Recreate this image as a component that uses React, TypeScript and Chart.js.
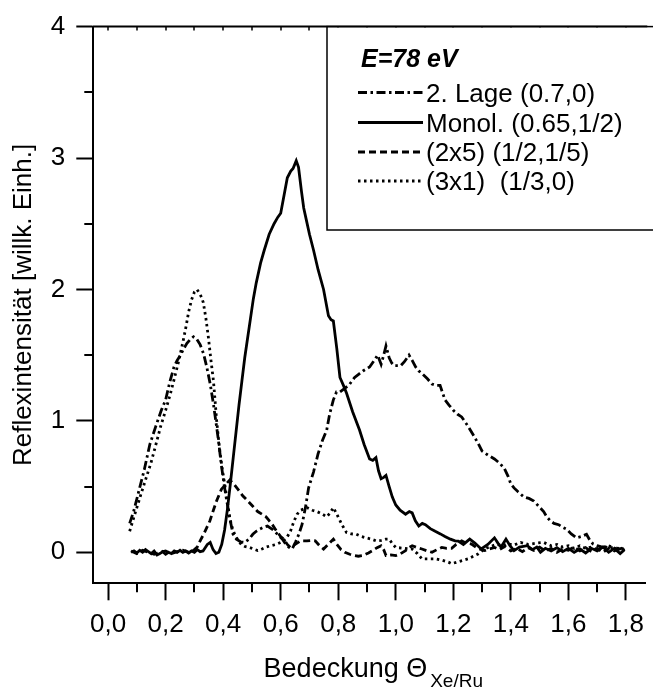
import React, { useEffect, useRef } from 'react';
import { Chart, registerables } from 'chart.js';

Chart.register(...registerables);

// ---- Data: [Bedeckung Θ, Reflexintensität] ----
const LAGE2: [number, number][] = [
  [0.075, 0.22], [0.09, 0.32], [0.105, 0.45], [0.126, 0.63], [0.145, 0.82], [0.166, 0.96], [0.185, 1.08],
  [0.2, 1.16], [0.215, 1.3], [0.229, 1.41], [0.24, 1.46], [0.252, 1.5], [0.263, 1.55], [0.274, 1.59],
  [0.286, 1.62], [0.297, 1.64], [0.309, 1.62], [0.32, 1.58], [0.332, 1.51], [0.343, 1.41], [0.355, 1.28],
  [0.366, 1.13], [0.375, 0.99], [0.383, 0.86], [0.394, 0.66], [0.403, 0.52], [0.411, 0.41], [0.423, 0.26],
  [0.434, 0.14], [0.446, 0.1], [0.46, 0.08], [0.474, 0.075], [0.49, 0.1], [0.503, 0.137], [0.515, 0.16],
  [0.526, 0.175], [0.54, 0.19], [0.554, 0.2], [0.571, 0.175], [0.589, 0.137], [0.606, 0.1], [0.618, 0.06],
  [0.629, 0.037], [0.64, 0.025], [0.652, 0.08], [0.663, 0.137], [0.674, 0.21], [0.686, 0.34], [0.697, 0.49],
  [0.714, 0.61], [0.73, 0.75], [0.745, 0.85], [0.76, 0.93], [0.77, 1.05], [0.783, 1.16], [0.794, 1.22],
  [0.806, 1.22], [0.818, 1.24], [0.83, 1.26], [0.84, 1.28], [0.857, 1.33], [0.874, 1.36], [0.886, 1.38],
  [0.909, 1.41], [0.925, 1.46], [0.937, 1.5], [0.949, 1.43], [0.958, 1.5], [0.966, 1.57], [0.977, 1.48],
  [0.986, 1.44], [0.994, 1.42], [1.005, 1.42], [1.017, 1.42], [1.03, 1.45], [1.046, 1.5], [1.057, 1.46],
  [1.069, 1.41], [1.08, 1.38], [1.091, 1.36], [1.11, 1.32], [1.126, 1.28], [1.14, 1.27], [1.154, 1.27],
  [1.171, 1.16], [1.185, 1.12], [1.2, 1.08], [1.215, 1.05], [1.229, 1.03], [1.251, 0.96], [1.27, 0.89],
  [1.286, 0.83], [1.3, 0.77], [1.32, 0.74], [1.343, 0.71], [1.36, 0.68], [1.377, 0.64], [1.39, 0.58],
  [1.4, 0.52], [1.411, 0.49], [1.425, 0.46], [1.446, 0.42], [1.463, 0.41], [1.48, 0.39], [1.497, 0.35],
  [1.514, 0.31], [1.525, 0.27], [1.537, 0.24], [1.55, 0.22], [1.566, 0.21], [1.58, 0.19], [1.594, 0.175],
  [1.61, 0.14], [1.628, 0.11], [1.645, 0.12], [1.663, 0.137], [1.675, 0.09], [1.686, 0.063], [1.7, 0.05],
  [1.72, 0.037], [1.737, 0.05], [1.754, 0.04], [1.77, 0.02], [1.785, 0.03], [1.794, 0.01],
];

const MONOL: [number, number][] = [
  [0.08, 0.0], [0.09, 0.01], [0.1, -0.005], [0.11, 0.015], [0.12, 0.0], [0.13, 0.02], [0.14, 0.005],
  [0.15, -0.01], [0.16, 0.01], [0.17, -0.02], [0.18, -0.01], [0.19, 0.005], [0.2, -0.015], [0.21, 0.0],
  [0.22, -0.01], [0.23, 0.01], [0.24, 0.0], [0.25, 0.015], [0.26, 0.0], [0.27, 0.01], [0.28, -0.005],
  [0.29, 0.01], [0.3, 0.0], [0.31, 0.02], [0.32, 0.005], [0.33, 0.01], [0.345, 0.06], [0.355, 0.075],
  [0.365, 0.02], [0.375, -0.01], [0.385, 0.0], [0.395, 0.06], [0.405, 0.17], [0.415, 0.33], [0.425, 0.52],
  [0.435, 0.72], [0.445, 0.92], [0.455, 1.12], [0.465, 1.3], [0.475, 1.48], [0.485, 1.63], [0.495, 1.78],
  [0.505, 1.93], [0.515, 2.05], [0.53, 2.2], [0.543, 2.3], [0.56, 2.42], [0.577, 2.5], [0.59, 2.55],
  [0.6, 2.58], [0.612, 2.72], [0.623, 2.85], [0.635, 2.9], [0.643, 2.92], [0.654, 2.98], [0.662, 2.93],
  [0.672, 2.75], [0.68, 2.62], [0.69, 2.52], [0.7, 2.42], [0.714, 2.3], [0.73, 2.15], [0.749, 2.0],
  [0.766, 1.8], [0.775, 1.77], [0.783, 1.76], [0.795, 1.55], [0.806, 1.33], [0.818, 1.27], [0.829, 1.21],
  [0.85, 1.07], [0.874, 0.93], [0.89, 0.82], [0.909, 0.71], [0.92, 0.7], [0.931, 0.72], [0.94, 0.62],
  [0.949, 0.56], [0.958, 0.57], [0.966, 0.585], [0.977, 0.5], [0.988, 0.42], [1.0, 0.36], [1.015, 0.32],
  [1.034, 0.29], [1.047, 0.31], [1.057, 0.3], [1.068, 0.24], [1.08, 0.2], [1.092, 0.22], [1.103, 0.21],
  [1.12, 0.18], [1.137, 0.16], [1.155, 0.14], [1.171, 0.12], [1.19, 0.1], [1.206, 0.087], [1.217, 0.085],
  [1.235, 0.06], [1.257, 0.1], [1.275, 0.07], [1.297, 0.025], [1.32, 0.06], [1.343, 0.11], [1.355, 0.07],
  [1.366, 0.04], [1.383, 0.1], [1.397, 0.05], [1.411, 0.013], [1.43, 0.04], [1.457, 0.05], [1.475, 0.02],
  [1.49, 0.04], [1.503, 0.0], [1.52, 0.03], [1.54, 0.01], [1.56, 0.035], [1.58, 0.005], [1.6, 0.03],
  [1.62, 0.0], [1.64, 0.025], [1.66, -0.005], [1.68, 0.03], [1.7, 0.01], [1.72, 0.04], [1.74, 0.0],
  [1.76, 0.03], [1.78, -0.01], [1.795, 0.02],
];

const P2X5: [number, number][] = [
  [0.08, 0.01], [0.1, -0.01], [0.12, 0.015], [0.14, 0.0], [0.16, -0.015], [0.18, 0.0], [0.2, 0.01],
  [0.22, -0.01], [0.24, 0.005], [0.26, 0.015], [0.28, 0.0], [0.3, 0.02], [0.31, 0.04], [0.32, 0.087],
  [0.335, 0.15], [0.354, 0.24], [0.366, 0.32], [0.377, 0.39], [0.394, 0.48], [0.41, 0.52], [0.423, 0.55],
  [0.437, 0.52], [0.451, 0.48], [0.468, 0.43], [0.486, 0.39], [0.503, 0.35], [0.52, 0.31], [0.535, 0.29],
  [0.549, 0.27], [0.56, 0.24], [0.571, 0.21], [0.589, 0.15], [0.6, 0.12], [0.611, 0.1], [0.623, 0.06],
  [0.634, 0.037], [0.65, 0.06], [0.669, 0.087], [0.691, 0.087], [0.705, 0.09], [0.72, 0.087], [0.735, 0.05],
  [0.749, 0.025], [0.765, 0.06], [0.783, 0.1], [0.794, 0.063], [0.81, 0.02], [0.823, 0.0], [0.84, -0.015],
  [0.857, -0.025], [0.87, -0.03], [0.886, -0.025], [0.905, -0.005], [0.92, 0.013], [0.935, 0.035],
  [0.949, 0.05], [0.958, 0.02], [0.966, -0.025], [0.983, -0.02], [1.0, -0.025], [1.017, -0.01],
  [1.034, 0.013], [1.045, 0.035], [1.057, 0.05], [1.075, 0.035], [1.091, 0.025], [1.11, 0.01], [1.126, 0.0],
  [1.143, 0.02], [1.16, 0.037], [1.177, 0.03], [1.194, 0.03], [1.21, 0.06], [1.229, 0.087], [1.245, 0.07],
  [1.263, 0.063], [1.285, 0.03], [1.309, 0.013], [1.325, 0.025], [1.343, 0.037], [1.36, 0.02], [1.38, 0.045],
  [1.4, 0.01], [1.42, 0.03], [1.44, 0.005], [1.46, 0.035], [1.48, 0.015], [1.5, 0.04], [1.52, 0.01],
  [1.54, 0.03], [1.56, 0.0], [1.58, 0.025], [1.6, 0.015], [1.62, 0.04], [1.64, 0.01], [1.66, 0.035],
  [1.68, 0.005], [1.7, 0.03], [1.72, 0.0], [1.74, 0.03], [1.76, 0.01], [1.78, 0.035], [1.795, 0.015],
];

const P3X1: [number, number][] = [
  [0.075, 0.16], [0.09, 0.27], [0.1, 0.34], [0.114, 0.44], [0.13, 0.55], [0.149, 0.68], [0.165, 0.81],
  [0.183, 0.96], [0.2, 1.08], [0.217, 1.21], [0.23, 1.32], [0.246, 1.46], [0.255, 1.55], [0.263, 1.63],
  [0.272, 1.73], [0.28, 1.83], [0.29, 1.92], [0.3, 1.98], [0.309, 2.0], [0.318, 1.97], [0.325, 1.94],
  [0.331, 1.9], [0.34, 1.78], [0.349, 1.63], [0.357, 1.47], [0.366, 1.31], [0.372, 1.15], [0.377, 1.01],
  [0.383, 0.88], [0.389, 0.76], [0.397, 0.63], [0.406, 0.51], [0.415, 0.38], [0.423, 0.26], [0.431, 0.19],
  [0.44, 0.137], [0.452, 0.09], [0.463, 0.06], [0.475, 0.045], [0.491, 0.037], [0.505, 0.025], [0.52, 0.013],
  [0.535, 0.025], [0.55, 0.04], [0.566, 0.05], [0.585, 0.06], [0.6, 0.075], [0.618, 0.1], [0.634, 0.16],
  [0.645, 0.23], [0.657, 0.29], [0.67, 0.32], [0.691, 0.34], [0.71, 0.32], [0.726, 0.31], [0.745, 0.29],
  [0.76, 0.27], [0.772, 0.3], [0.783, 0.34], [0.795, 0.29], [0.806, 0.24], [0.818, 0.19], [0.829, 0.15],
  [0.845, 0.14], [0.863, 0.137], [0.88, 0.12], [0.897, 0.11], [0.915, 0.1], [0.931, 0.087], [0.95, 0.09],
  [0.965, 0.1], [0.977, 0.1], [0.99, 0.06], [1.0, 0.037], [1.03, 0.03], [1.057, 0.025], [1.075, -0.01],
  [1.091, -0.05], [1.115, -0.05], [1.137, -0.05], [1.16, -0.06], [1.183, -0.075], [1.194, -0.087],
  [1.22, -0.07], [1.251, -0.05], [1.27, -0.03], [1.286, -0.013], [1.309, 0.025], [1.33, 0.045], [1.35, 0.06],
  [1.37, 0.05], [1.39, 0.065], [1.41, 0.055], [1.434, 0.075], [1.46, 0.06], [1.49, 0.07], [1.514, 0.075],
  [1.54, 0.05], [1.56, 0.06], [1.58, 0.04], [1.6, 0.05], [1.62, 0.03], [1.64, 0.05], [1.66, 0.03],
  [1.68, 0.04], [1.7, 0.02], [1.72, 0.05], [1.74, 0.03], [1.76, 0.04], [1.78, 0.02], [1.795, 0.03],
];

const SERIES_LABELS = ['2. Lage (0.7,0)', 'Monol. (0.65,1/2)', '(2x5) (1/2,1/5)', '(3x1)  (1/3,0)'];
const LEGEND_TITLE = 'E=78 eV';
const X_TICKS = [0, 0.2, 0.4, 0.6, 0.8, 1.0, 1.2, 1.4, 1.6, 1.8];
const X_MINOR = [0.1, 0.3, 0.5, 0.7, 0.9, 1.1, 1.3, 1.5, 1.7];
const Y_TICKS = [0, 1, 2, 3, 4];
const Y_MINOR = [0.5, 1.5, 2.5, 3.5];
const X_TITLE = 'Bedeckung Θ';
const X_TITLE_SUB = 'Xe/Ru';
const Y_TITLE = 'Reflexintensität [willk. Einh.]';

const FONT = "'Liberation Sans', Arial, Helvetica, sans-serif";

const toXY = (pts: [number, number][]) => pts.map(([x, y]) => ({ x, y }));

const decorPlugin = {
  id: 'decor',
  afterDraw(chart: any) {
    const { ctx, chartArea: ca } = chart;
    const xs = chart.scales.x;
    const ys = chart.scales.y;
    ctx.save();
    ctx.strokeStyle = '#000';
    ctx.lineCap = 'butt';
    // minor ticks (outward)
    ctx.lineWidth = 2;
    ctx.beginPath();
    X_MINOR.forEach((v) => {
      const px = Math.round(xs.getPixelForValue(v));
      ctx.moveTo(px, ca.bottom);
      ctx.lineTo(px, ca.bottom + 9);
    });
    Y_MINOR.forEach((v) => {
      const py = Math.round(ys.getPixelForValue(v));
      ctx.moveTo(ca.left, py);
      ctx.lineTo(ca.left - 9, py);
    });
    ctx.stroke();
    // top frame line with inward ticks
    ctx.beginPath();
    ctx.moveTo(ca.left - 1, ca.top);
    ctx.lineTo(ca.right + 2, ca.top);
    ctx.stroke();
    ctx.lineWidth = 1.5;
    ctx.beginPath();
    [...X_TICKS, ...X_MINOR].forEach((v) => {
      const px = Math.round(xs.getPixelForValue(v));
      ctx.moveTo(px, ca.top);
      ctx.lineTo(px, ca.top + 4);
    });
    ctx.stroke();

    // legend box
    const bx = 327;
    const by = ca.top;
    const bw = 400;
    const bh = 230 - ca.top;
    ctx.fillStyle = '#fff';
    ctx.fillRect(bx, by + 1, bw, bh - 1);
    ctx.lineWidth = 1.5;
    ctx.strokeRect(bx, by, bw, bh);

    ctx.fillStyle = '#000';
    ctx.textBaseline = 'alphabetic';
    ctx.textAlign = 'left';
    ctx.font = `italic bold 25px ${FONT}`;
    ctx.fillText(LEGEND_TITLE, 361, 66.5);
    const rows = [92.5, 122.5, 152, 181];
    ctx.font = `26px ${FONT}`;
    chart.data.datasets.forEach((ds: any, i: number) => {
      const y = rows[i];
      ctx.save();
      ctx.lineWidth = ds.borderWidth;
      ctx.setLineDash(ds.borderDash || []);
      ctx.beginPath();
      ctx.moveTo(358, y);
      ctx.lineTo(423, y);
      ctx.stroke();
      ctx.restore();
      ctx.fillText(ds.label, 426, y + 9.3);
    });

    // x-axis title with subscript
    ctx.font = `27px ${FONT}`;
    const w1 = ctx.measureText(X_TITLE).width;
    ctx.font = `19px ${FONT}`;
    const w2 = ctx.measureText(X_TITLE_SUB).width;
    const cx = (ca.left + ca.right) / 2 + 4;
    const sx = cx - (w1 + 3 + w2) / 2;
    ctx.font = `27px ${FONT}`;
    ctx.fillText(X_TITLE, sx, 677);
    ctx.font = `19px ${FONT}`;
    ctx.fillText(X_TITLE_SUB, sx + w1 + 3, 686.5);
    ctx.restore();
  },
};

export default function App() {
  const ref = useRef<HTMLCanvasElement | null>(null);
  useEffect(() => {
    if (!ref.current) return;
    const common = { pointRadius: 0, borderColor: '#000', tension: 0, fill: false, borderWidth: 2.8 };
    const chart = new Chart(ref.current, {
      type: 'line',
      data: {
        datasets: [
          { ...common, label: SERIES_LABELS[0], data: toXY(LAGE2), borderDash: [9, 3.5, 2.5, 3.5] },
          { ...common, label: SERIES_LABELS[1], data: toXY(MONOL) },
          { ...common, label: SERIES_LABELS[2], data: toXY(P2X5), borderDash: [7, 4] },
          { ...common, label: SERIES_LABELS[3], data: toXY(P3X1), borderDash: [2.5, 3.5] },
        ],
      },
      options: {
        responsive: false,
        animation: false,
        events: [],
        layout: { padding: { top: 15.7, left: 0, right: 0, bottom: 0 } },
        plugins: { legend: { display: false }, tooltip: { enabled: false }, title: { display: false } },
        scales: {
          x: {
            type: 'linear',
            min: -0.0514,
            max: 1.8673,
            afterBuildTicks: (s: any) => { s.ticks = X_TICKS.map((v) => ({ value: v })); },
            afterFit: (s: any) => { s.height = 690 - 583.3; },
            ticks: {
              color: '#000',
              font: { family: FONT, size: 26 },
              padding: 9,
              maxRotation: 0,
              autoSkip: false,
              callback: (v: any) => Number(v).toFixed(1).replace('.', ','),
            },
            grid: { display: true, drawOnChartArea: false, drawTicks: true, tickLength: 17, tickWidth: 2, tickColor: '#000' },
            border: { display: true, color: '#000', width: 2 },
            title: { display: false },
          },
          y: {
            type: 'linear',
            min: -0.236,
            max: 4,
            afterBuildTicks: (s: any) => { s.ticks = Y_TICKS.map((v) => ({ value: v })); },
            afterFit: (s: any) => { s.width = 93.3; },
            ticks: {
              color: '#000',
              font: { family: FONT, size: 26 },
              padding: 11,
              autoSkip: false,
              callback: (v: any) => String(v),
            },
            grid: { display: true, drawOnChartArea: false, drawTicks: true, tickLength: 17, tickWidth: 2, tickColor: '#000' },
            border: { display: true, color: '#000', width: 2 },
            title: {
              display: true,
              text: Y_TITLE,
              color: '#000',
              font: { family: FONT, size: 26, weight: 'normal' },
              padding: { top: 8, bottom: 0 },
            },
          },
        },
      },
      plugins: [decorPlugin],
    } as any);
    return () => chart.destroy();
  }, []);
  return (
    <div style={{ position: 'fixed', left: 0, top: 0, width: 653, height: 690, overflow: 'hidden', background: '#fff' }}>
      <canvas ref={ref} width={653} height={690} style={{ display: 'block', width: 653, height: 690 }} />
    </div>
  );
}
